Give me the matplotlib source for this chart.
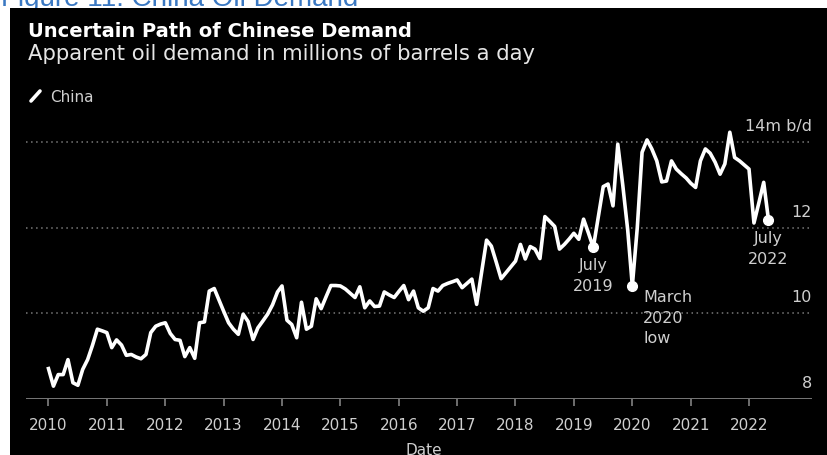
import matplotlib.pyplot as plt
import matplotlib.dates as mdates
from matplotlib.lines import Line2D
from matplotlib.patches import Rectangle
import pandas as pd

W, H = 828, 456
plt.rcParams['font.family'] = ['DejaVu Sans']

# apparent oil demand, million barrels a day, monthly from March 2010
demand = [
    8.71, 8.30, 8.57, 8.57, 8.92, 8.38, 8.32, 8.69, 8.92, 9.25,
    9.63, 9.59, 9.55, 9.20, 9.38, 9.26, 9.02, 9.04, 8.98, 8.94,
    9.04, 9.55, 9.70, 9.75, 9.78, 9.53, 9.39, 9.37, 8.99, 9.20,
    8.95, 9.78, 9.80, 10.52, 10.58, 10.30, 10.05, 9.78, 9.63, 9.51,
    9.98, 9.81, 9.39, 9.66, 9.82, 9.98, 10.20, 10.50, 10.64, 9.84,
    9.74, 9.43, 10.26, 9.63, 9.70, 10.34, 10.11, 10.38, 10.65, 10.65,
    10.64, 10.57, 10.47, 10.37, 10.62, 10.13, 10.29, 10.16, 10.17, 10.50,
    10.43, 10.37, 10.51, 10.65, 10.32, 10.52, 10.13, 10.05, 10.13, 10.58,
    10.52, 10.65, 10.70, 10.74, 10.78, 10.60, 10.70, 10.80, 10.21, 10.96,
    11.71, 11.57, 11.19, 10.81, 10.95, 11.09, 11.22, 11.61, 11.27, 11.56,
    11.50, 11.28, 12.26, 12.15, 12.03, 11.50, 11.61, 11.74, 11.87, 11.73,
    12.20, 11.87, 11.54, 12.25, 12.96, 13.02, 12.51, 13.95, 13.00, 11.95,
    10.64, 12.00, 13.76, 14.05, 13.84, 13.56, 13.07, 13.09, 13.56, 13.37,
    13.26, 13.16, 13.04, 12.94, 13.56, 13.84, 13.74, 13.53, 13.25, 13.49,
    14.23, 13.64, 13.56, 13.46, 13.37, 12.11, 12.57, 13.06, 12.18,
]
dates = pd.date_range('2010-03-01', periods=len(demand), freq='MS')
series = pd.Series(demand, index=dates)

years = list(range(2010, 2023))
y_ticks = [8, 10, 12, 14]
y_tick_labels = ['8', '10', '12', '14m b/d']

callout_dates = ['2019-07-01', '2020-03-01', '2022-07-01']
callout_texts = ['July\n2019', 'March\n2020\nlow', 'July\n2022']

TEXT = '#cfcfcf'
AXIS = '#8c8c8c'


def fx(px):
    return px / W


def fy(py):
    return 1 - py / H


fig = plt.figure(figsize=(W / 100, H / 100), dpi=100, facecolor='white')

# caption above the dark panel, mostly hidden behind it
fig.text(fx(1), fy(6), 'Figure 11: China Oil Demand', color='#3a78c2',
         fontsize=20, family='Liberation Sans', va='baseline', zorder=-2)
fig.add_artist(Rectangle((fx(10), 0), 1 - fx(10), fy(9), transform=fig.transFigure,
                         facecolor='black', edgecolor='none', zorder=-1))

fig.text(fx(28), fy(37), 'Uncertain Path of Chinese Demand', color='white',
         fontsize=14, weight='bold', va='baseline')
fig.text(fx(28), fy(60), 'Apparent oil demand in millions of barrels a day',
         color='#e6e6e6', fontsize=15.2, va='baseline')

# legend entry
fig.add_artist(Line2D([fx(31), fx(40)], [fy(102), fy(92)], color='white', lw=2.6,
                      solid_capstyle='round', transform=fig.transFigure))
fig.text(fx(50), fy(97), 'China', color=TEXT, fontsize=11, va='center')

ax = fig.add_axes([fx(26), fy(400), fx(812) - fx(26), fy(100.25) - fy(400)], zorder=1)
ax.set_facecolor('none')
for s in ax.spines.values():
    s.set_visible(False)

ax.plot(series.index, series.values, color='white', lw=2.6, solid_joinstyle='round', zorder=3)

cd = pd.to_datetime(callout_dates)
ax.plot(cd, series.loc[cd].values, 'o', color='white', ms=7, zorder=4)
styles = [dict(xytext=(0, -10), ha='center'),
          dict(xytext=(11, -3), ha='left'),
          dict(xytext=(0, -10), ha='center')]
for d, t, st in zip(cd, callout_texts, styles):
    ax.annotate(t, xy=(d, series.loc[d]), textcoords='offset pixels', va='top',
                color=TEXT, fontsize=11.5, linespacing=1.48, **st)

# dotted gridlines and solid baseline
for v in y_ticks[1:]:
    ax.axhline(v, color='#7a7a7a', lw=1.1, dashes=(1, 2.3), zorder=1)
ax.axhline(y_ticks[0], color=AXIS, lw=1.2, zorder=2)

for v, lab in zip(y_ticks, y_tick_labels):
    ax.annotate(lab, xy=(1, v), xycoords=('axes fraction', 'data'), xytext=(0, 9),
                textcoords='offset pixels', ha='right', va='bottom', color=TEXT, fontsize=11.5)

first = mdates.date2num(dates[0])
month = 30.44
ax.set_xlim(first - 4.62 * month, mdates.date2num(pd.Timestamp('2022-03-01')) + 12.95 * month)
ax.set_ylim(8, 15)

ax.set_xticks([pd.Timestamp(f'{y}-03-01') for y in years])
ax.set_xticklabels([str(y) for y in years])
ax.set_yticks([])
ax.tick_params(axis='x', length=5, width=1.1, color=AXIS, labelcolor=TEXT,
               labelsize=11, pad=8)

fig.text(fx(424), fy(443), 'Date', color=TEXT, fontsize=11, ha='center', va='top')

fig.savefig('out.png', dpi=100, facecolor='white')
